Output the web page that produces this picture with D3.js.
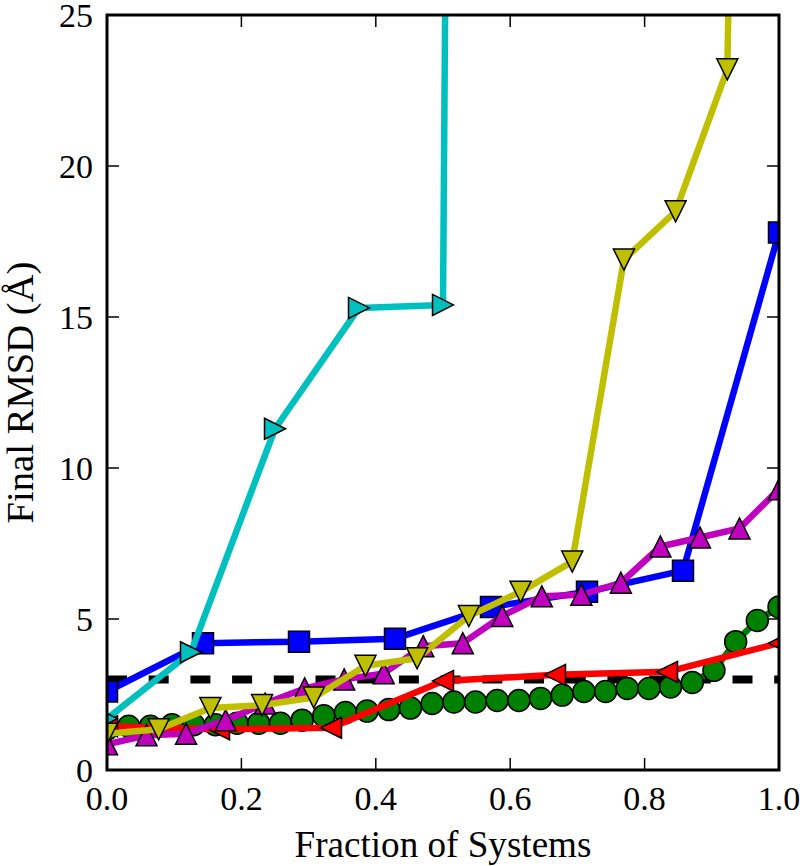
<!DOCTYPE html>
<html><head><meta charset="utf-8">
<script src="https://cdn.jsdelivr.net/npm/d3@7"></script>
<style>body{margin:0;background:#fff}svg{display:block}</style>
</head><body>
<svg id="chart" width="800" height="866"></svg>
<script>
// ---- data (Final RMSD in Å, sorted, vs. fraction of systems) ----
const cyanValues    = [1.7, 3.9, 11.3, 15.3, 15.4, 400, 420, 450, 480];
const blueValues    = [2.6, 4.2, 4.25, 4.35, 5.4, 5.9, 6.6, 17.8];
const yellowValues  = [1.2, 1.35, 2.05, 2.15, 2.4, 3.45, 3.7, 5.1, 5.9, 6.9, 16.9, 18.5, 23.2, 120];
const magentaValues = [0.85, 1.15, 1.2, 1.65, 2.2, 2.7, 3.0, 3.2, 4.1, 4.2, 5.1, 5.75, 5.8, 6.2, 7.4, 7.7, 8.0, 9.3];
const greenValues   = [1.35, 1.45, 1.45, 1.5, 1.5, 1.5, 1.55, 1.55, 1.55, 1.65, 1.8, 1.9, 1.95, 2.0, 2.05, 2.2,
                       2.25, 2.25, 2.3, 2.3, 2.37, 2.48, 2.6, 2.6, 2.7, 2.7, 2.75, 2.9, 3.3, 4.25, 4.95, 5.4];
const redValues     = [1.45, 1.35, 1.4, 2.95, 3.15, 3.25, 4.2];
const thresholdValue = 3.0;
const xTickValues = [0, 0.2, 0.4, 0.6, 0.8, 1.0];
const xTickLabels = ["0.0", "0.2", "0.4", "0.6", "0.8", "1.0"];
const yTickValues = [0, 5, 10, 15, 20, 25];
const yTickLabels = ["0", "5", "10", "15", "20", "25"];
const xTitle = "Fraction of Systems";
const yTitle = "Final RMSD (Å)";

// ---- layout ----
const L = 107, R = 779, T = 15, B = 770;
const svg = d3.select("#chart");
const x = d3.scaleLinear().domain([0, 1]).range([L, R]);
const y = d3.scaleLinear().domain([0, 25]).range([B, T]);
const FONT = "'Liberation Serif', 'DejaVu Serif', serif";

svg.append("defs").append("clipPath").attr("id", "clip")
  .append("rect").attr("x", L).attr("y", T).attr("width", R - L).attr("height", B - T);

const plot = svg.append("g").attr("clip-path", "url(#clip)");

function toPoints(vals) {
  const n = vals.length;
  return vals.map((v, i) => ({ fx: i / (n - 1), v }));
}

const rT = 10.5;
const markerPaths = {
  square: r => `M${-r},${-r}H${r}V${r}H${-r}Z`,
  up:     r => `M0,${-r}L${r},${r}L${-r},${r}Z`,
  down:   r => `M0,${r}L${r},${-r}L${-r},${-r}Z`,
  right:  r => `M${r},0L${-r},${r}L${-r},${-r}Z`,
  left:   r => `M${-r},0L${r},${r}L${r},${-r}Z`
};

function drawSeries(vals, color, marker) {
  const pts = toPoints(vals);
  const line = d3.line().x(d => x(d.fx)).y(d => y(d.v));
  const g = plot.append("g");
  g.append("path").datum(pts).attr("d", line)
    .attr("fill", "none").attr("stroke", color).attr("stroke-width", 6.5)
    .attr("stroke-linejoin", "round");
  if (marker === "circle") {
    g.selectAll("circle").data(pts).join("circle")
      .attr("cx", d => x(d.fx)).attr("cy", d => y(d.v)).attr("r", 11)
      .attr("fill", color).attr("stroke", "#000").attr("stroke-width", 1.5);
  } else {
    g.selectAll("path.m").data(pts).join("path").attr("class", "m")
      .attr("transform", d => `translate(${x(d.fx)},${y(d.v)})`)
      .attr("d", markerPaths[marker](rT))
      .attr("fill", color).attr("stroke", "#000").attr("stroke-width", 1.5)
      .attr("stroke-linejoin", "miter");
  }
}

// reference threshold line
plot.append("line")
  .attr("x1", x(0)).attr("x2", x(1))
  .attr("y1", y(thresholdValue)).attr("y2", y(thresholdValue))
  .attr("stroke", "#000").attr("stroke-width", 8)
  .attr("stroke-dasharray", "20,21.7");

drawSeries(greenValues, "#008000", "circle");
drawSeries(redValues, "#ff0000", "left");
drawSeries(blueValues, "#0000ff", "square");
drawSeries(cyanValues, "#00bfbf", "right");
drawSeries(magentaValues, "#bf00bf", "up");
drawSeries(yellowValues, "#bfbf00", "down");

// ---- axes frame & ticks ----
const tickLen = 12;
const axes = svg.append("g");
xTickValues.forEach(v => {
  axes.append("line").attr("x1", x(v)).attr("x2", x(v)).attr("y1", B).attr("y2", B - tickLen)
    .attr("stroke", "#000").attr("stroke-width", 1.5);
  axes.append("line").attr("x1", x(v)).attr("x2", x(v)).attr("y1", T).attr("y2", T + tickLen)
    .attr("stroke", "#000").attr("stroke-width", 1.5);
});
yTickValues.forEach(v => {
  axes.append("line").attr("x1", L).attr("x2", L + tickLen).attr("y1", y(v)).attr("y2", y(v))
    .attr("stroke", "#000").attr("stroke-width", 1.5);
  axes.append("line").attr("x1", R).attr("x2", R - tickLen).attr("y1", y(v)).attr("y2", y(v))
    .attr("stroke", "#000").attr("stroke-width", 1.5);
});
axes.append("rect").attr("x", L).attr("y", T).attr("width", R - L).attr("height", B - T)
  .attr("fill", "none").attr("stroke", "#000").attr("stroke-width", 3);

// tick labels
svg.append("g").selectAll("text").data(xTickValues).join("text")
  .attr("x", d => x(d)).attr("y", 810)
  .attr("text-anchor", "middle").attr("font-family", FONT).attr("font-size", 34)
  .text((d, i) => xTickLabels[i]);
svg.append("g").selectAll("text").data(yTickValues).join("text")
  .attr("x", 93).attr("y", d => y(d)).attr("dy", "0.34em")
  .attr("text-anchor", "end").attr("font-family", FONT).attr("font-size", 34)
  .text((d, i) => yTickLabels[i]);

// axis titles, sized to match target widths
function fitText(sel, target) {
  const w = sel.node().getComputedTextLength();
  const fs = parseFloat(sel.attr("font-size"));
  sel.attr("font-size", fs * target / w);
}
const xt = svg.append("text").attr("x", (L + R) / 2).attr("y", 857)
  .attr("text-anchor", "middle").attr("font-family", FONT).attr("font-size", 35).text(xTitle);
fitText(xt, 297);
const yt = svg.append("text")
  .attr("transform", `translate(33,${(T + B) / 2}) rotate(-90)`)
  .attr("text-anchor", "middle").attr("font-family", FONT).attr("font-size", 35).text(yTitle);
fitText(yt, 262);
</script>
</body></html>
